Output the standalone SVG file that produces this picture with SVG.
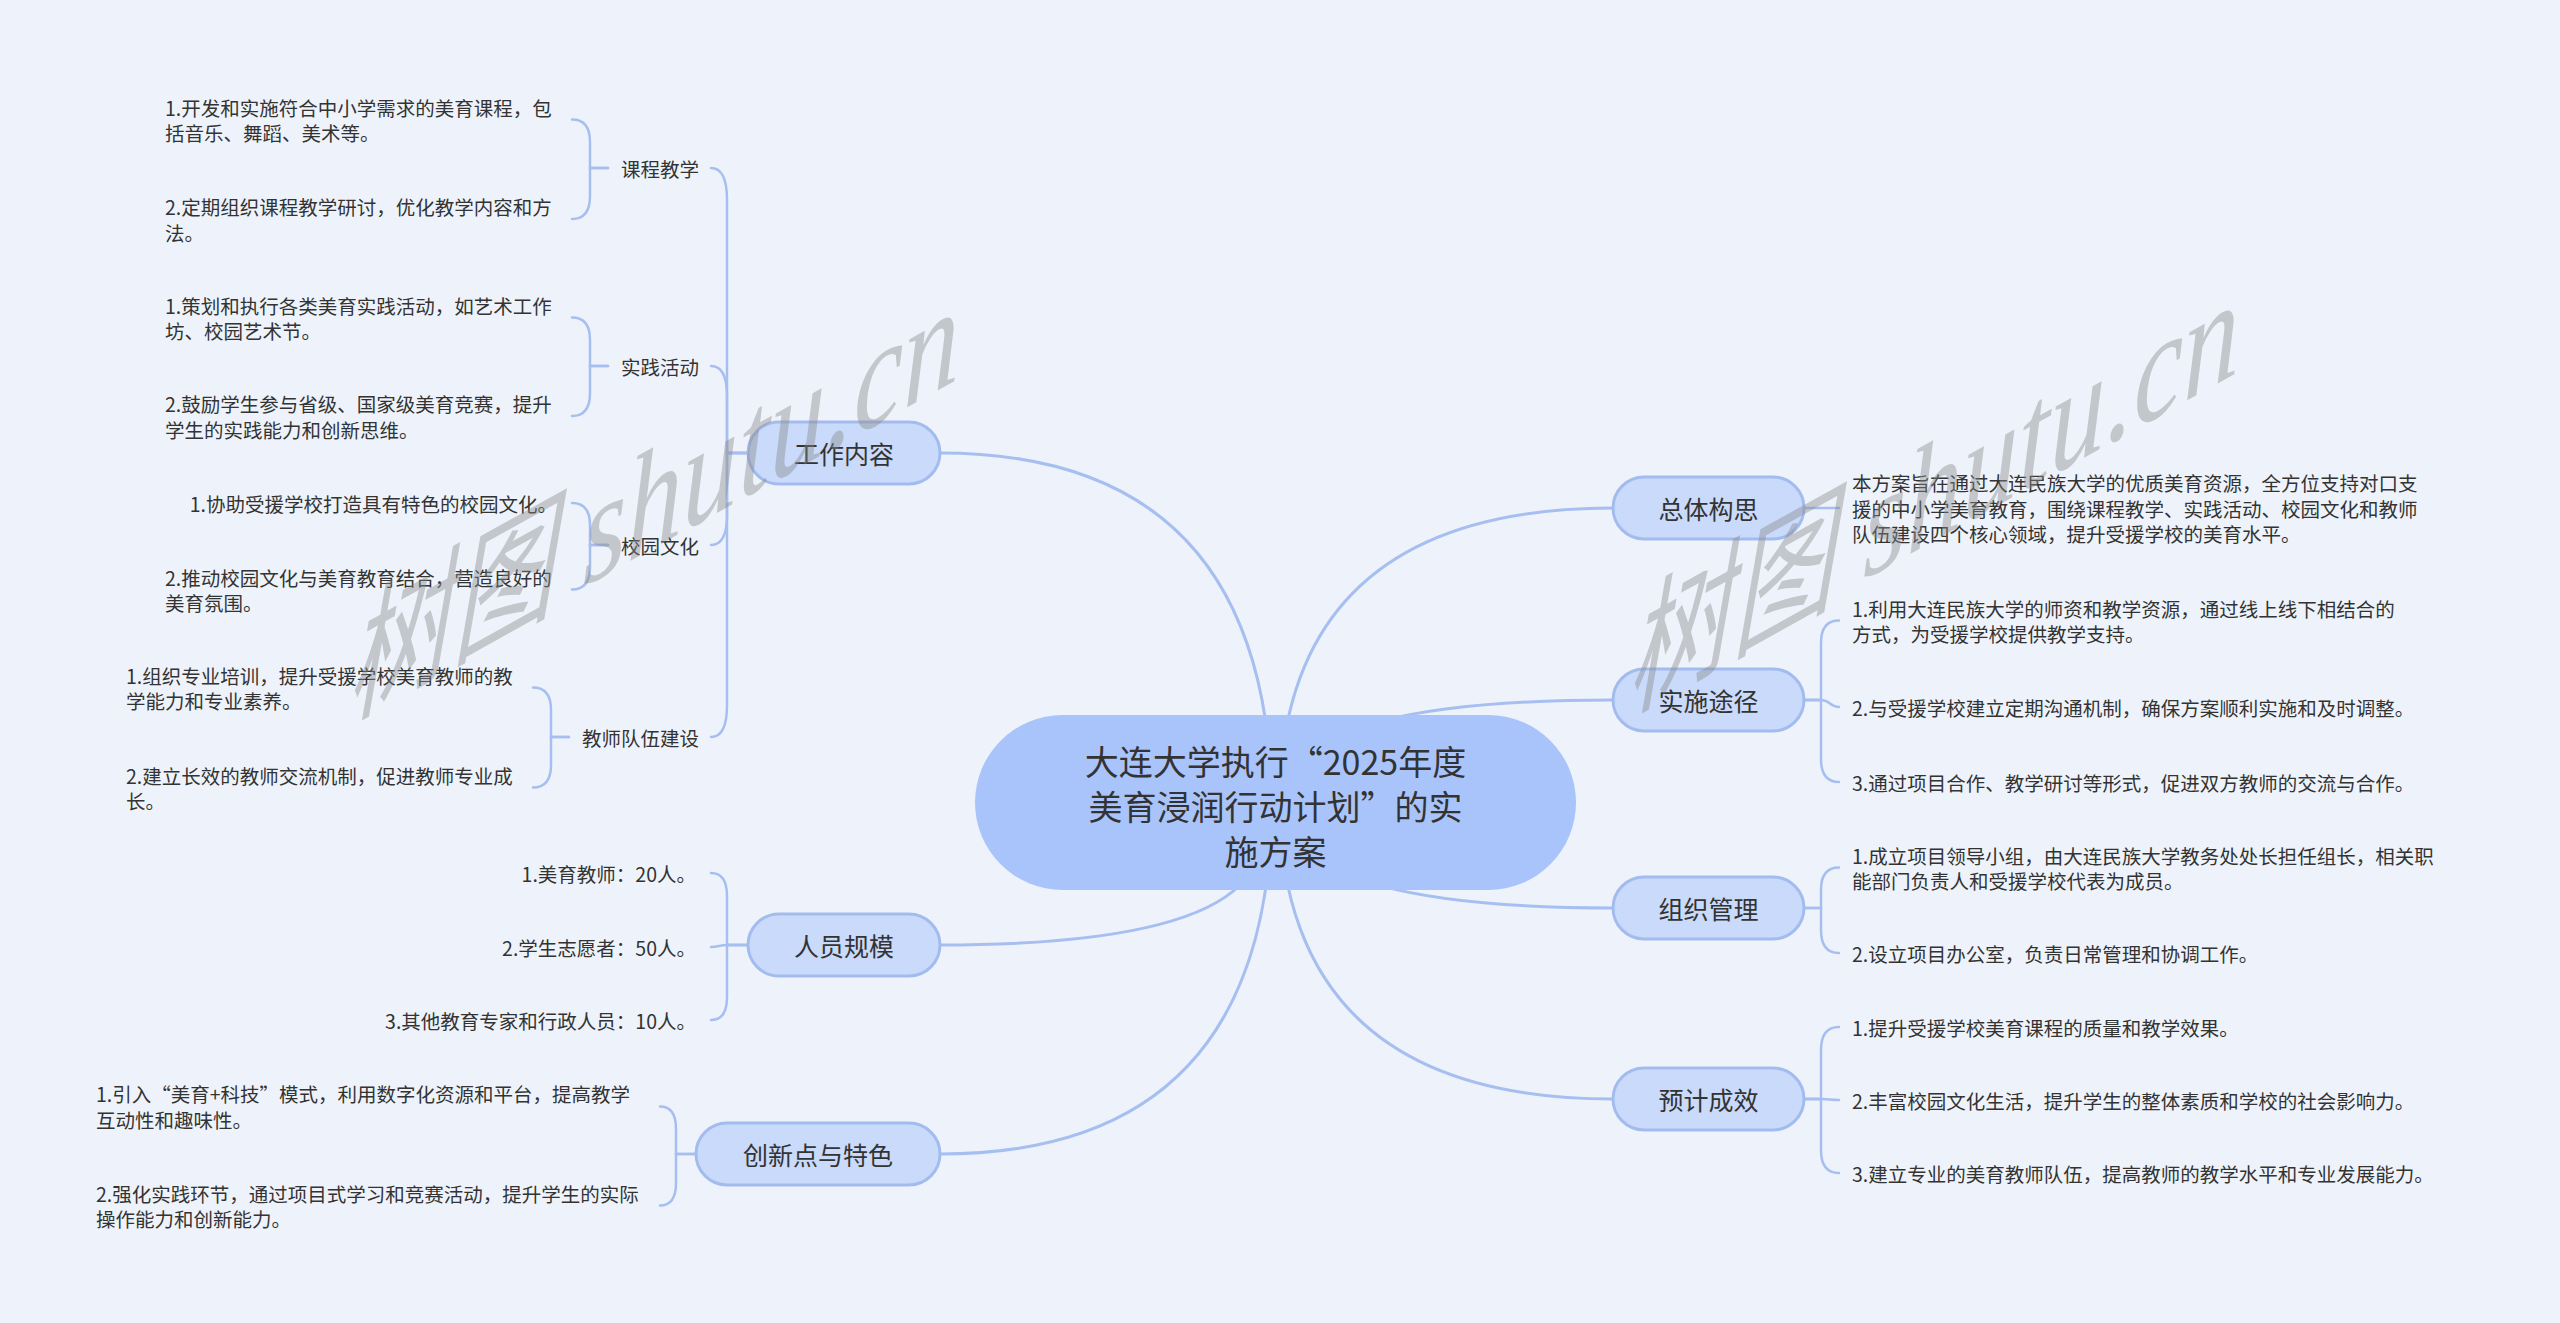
<svg xmlns="http://www.w3.org/2000/svg" width="2560" height="1323" viewBox="0 0 2560 1323">
<style>
.bg{fill:#eef3fb}
.root{fill:#a9c4fa}
.l1{fill:#c9dafb;stroke:#a3bcef;stroke-width:3}
.conn path{fill:none;stroke:#a6bff0;stroke-width:3;stroke-linecap:round}
.conn path.s{stroke-width:2.5}
text{font-family:"Noto Sans CJK SC","Noto Sans",sans-serif;fill:#333;dominant-baseline:central}
.t0{font-size:34px;text-anchor:middle}
.t1{font-size:25px;text-anchor:middle}
.t2{font-size:19.5px}
.e{text-anchor:end}
.wm{fill:#8a8a8a;opacity:0.42;dominant-baseline:alphabetic;font-style:italic}
.wm .c{font-size:104px}
.wm .l{font-family:"Liberation Serif",serif;font-size:112px}
</style>
<rect class="bg" x="0" y="0" width="2560" height="1323"/>

<g id="connectors" class="conn">
  <!-- root to level 1 -->
  <path d="M940 453 Q1265 453 1272 800"/>
  <path d="M940 945 Q1180 945 1240 885 L1262 850"/>
  <path d="M940 1154 Q1268 1154 1272 805"/>
  <path d="M1613 508 Q1285 508 1279 800"/>
  <path d="M1613 700 Q1360 700 1300 760"/>
  <path d="M1613 908 Q1360 908 1300 845"/>
  <path d="M1613 1099 Q1285 1099 1279 805"/>
  <!-- 工作内容 children -->
  <path class="s" d="M748 453 H727 V200 Q727 168 711 168"/>
  <path class="s" d="M748 453 H727 V396 Q727 366 711 366"/>
  <path class="s" d="M748 453 H727 V515 Q727 545 711 545"/>
  <path class="s" d="M748 453 H727 V705 Q727 737 711 737"/>
  <!-- 课程教学 -->
  <path class="s" d="M608 168 H590 V142 Q590 119.5 572 119.5"/>
  <path class="s" d="M608 168 H590 V196 Q590 219 572 219"/>
  <!-- 实践活动 -->
  <path class="s" d="M608 366 H590 V340 Q590 317.5 572 317.5"/>
  <path class="s" d="M608 366 H590 V393 Q590 416 572 416"/>
  <!-- 校园文化 -->
  <path class="s" d="M608 545 H590 V525 Q590 503 572 503"/>
  <path class="s" d="M608 545 H590 V567 Q590 589.5 572 589.5"/>
  <!-- 教师队伍建设 -->
  <path class="s" d="M569 737 H551 V710 Q551 687.5 533 687.5"/>
  <path class="s" d="M569 737 H551 V765 Q551 787.5 533 787.5"/>
  <!-- 人员规模 -->
  <path class="s" d="M748 945 H727 V896 Q727 873 711 873"/>
  <path class="s" d="M748 945 H727 C719 945 719 947 711 947"/>
  <path class="s" d="M748 945 H727 V997 Q727 1020 711 1020"/>
  <!-- 创新点与特色 -->
  <path class="s" d="M696 1154 H676 V1129 Q676 1106.5 660 1106.5"/>
  <path class="s" d="M696 1154 H676 V1183 Q676 1205.5 660 1205.5"/>
  <!-- 总体构思 -->
  <path class="s" d="M1804 508 H1839"/>
  <!-- 实施途径 -->
  <path class="s" d="M1804 700 H1821 V643 Q1821 620.5 1839 620.5"/>
  <path class="s" d="M1804 700 H1821 C1830 700 1830 707 1839 707"/>
  <path class="s" d="M1804 700 H1821 V759 Q1821 782 1839 782"/>
  <!-- 组织管理 -->
  <path class="s" d="M1804 908 H1821 V890 Q1821 867.5 1839 867.5"/>
  <path class="s" d="M1804 908 H1821 V930 Q1821 953 1839 953"/>
  <!-- 预计成效 -->
  <path class="s" d="M1804 1099 H1821 V1050 Q1821 1027 1839 1027"/>
  <path class="s" d="M1804 1099 H1821 C1830 1099 1830 1100 1839 1100"/>
  <path class="s" d="M1804 1099 H1821 V1150 Q1821 1173 1839 1173"/>
</g>

<g id="root">
  <rect class="root" x="975" y="715" width="601" height="175" rx="87.5"/>
  <text class="t0" x="1275.5" y="760">大连大学执行“2025年度</text>
  <text class="t0" x="1275.5" y="805">美育浸润行动计划”的实</text>
  <text class="t0" x="1275.5" y="850">施方案</text>
</g>

<g id="n-gongzuo">
  <rect class="l1" x="748" y="422" width="192" height="62" rx="31"/>
  <text class="t1" x="844" y="453">工作内容</text>
</g>
<g id="n-renyuan">
  <rect class="l1" x="748" y="914" width="192" height="62" rx="31"/>
  <text class="t1" x="844" y="945">人员规模</text>
</g>
<g id="n-chuangxin">
  <rect class="l1" x="696" y="1123" width="244" height="62" rx="31"/>
  <text class="t1" x="818" y="1154">创新点与特色</text>
</g>
<g id="n-zongti">
  <rect class="l1" x="1613" y="477" width="191" height="62" rx="31"/>
  <text class="t1" x="1708.5" y="508">总体构思</text>
</g>
<g id="n-shishi">
  <rect class="l1" x="1613" y="669" width="191" height="62" rx="31"/>
  <text class="t1" x="1708.5" y="700">实施途径</text>
</g>
<g id="n-zuzhi">
  <rect class="l1" x="1613" y="877" width="191" height="62" rx="31"/>
  <text class="t1" x="1708.5" y="908">组织管理</text>
</g>
<g id="n-yuji">
  <rect class="l1" x="1613" y="1068" width="191" height="62" rx="31"/>
  <text class="t1" x="1708.5" y="1099">预计成效</text>
</g>

<g id="n-kecheng">
  <text class="t2 e" x="699" y="168">课程教学</text>
</g>
<g id="n-kecheng-1">
  <text class="t2" x="165" y="107">1.开发和实施符合中小学需求的美育课程，包</text>
  <text class="t2" x="165" y="132.5">括音乐、舞蹈、美术等。</text>
</g>
<g id="n-kecheng-2">
  <text class="t2" x="165" y="206.5">2.定期组织课程教学研讨，优化教学内容和方</text>
  <text class="t2" x="165" y="232">法。</text>
</g>
<g id="n-shijian">
  <text class="t2 e" x="699" y="366">实践活动</text>
</g>
<g id="n-shijian-1">
  <text class="t2" x="165" y="305">1.策划和执行各类美育实践活动，如艺术工作</text>
  <text class="t2" x="165" y="330.5">坊、校园艺术节。</text>
</g>
<g id="n-shijian-2">
  <text class="t2" x="165" y="403.5">2.鼓励学生参与省级、国家级美育竞赛，提升</text>
  <text class="t2" x="165" y="429">学生的实践能力和创新思维。</text>
</g>
<g id="n-xiaoyuan">
  <text class="t2 e" x="699" y="545">校园文化</text>
</g>
<g id="n-xiaoyuan-1">
  <text class="t2 e" x="557" y="503">1.协助受援学校打造具有特色的校园文化。</text>
</g>
<g id="n-xiaoyuan-2">
  <text class="t2" x="165" y="577">2.推动校园文化与美育教育结合，营造良好的</text>
  <text class="t2" x="165" y="602.5">美育氛围。</text>
</g>
<g id="n-jiaoshi">
  <text class="t2 e" x="699" y="737">教师队伍建设</text>
</g>
<g id="n-jiaoshi-1">
  <text class="t2" x="126" y="675">1.组织专业培训，提升受援学校美育教师的教</text>
  <text class="t2" x="126" y="700.5">学能力和专业素养。</text>
</g>
<g id="n-jiaoshi-2">
  <text class="t2" x="126" y="775">2.建立长效的教师交流机制，促进教师专业成</text>
  <text class="t2" x="126" y="800.5">长。</text>
</g>

<g id="n-renyuan-1"><text class="t2 e" x="696" y="873">1.美育教师：20人。</text></g>
<g id="n-renyuan-2"><text class="t2 e" x="696" y="947">2.学生志愿者：50人。</text></g>
<g id="n-renyuan-3"><text class="t2 e" x="696" y="1020">3.其他教育专家和行政人员：10人。</text></g>

<g id="n-chuangxin-1">
  <text class="t2" x="96" y="1093.5">1.引入“美育+科技”模式，利用数字化资源和平台，提高教学</text>
  <text class="t2" x="96" y="1119">互动性和趣味性。</text>
</g>
<g id="n-chuangxin-2">
  <text class="t2" x="96" y="1193">2.强化实践环节，通过项目式学习和竞赛活动，提升学生的实际</text>
  <text class="t2" x="96" y="1218.5">操作能力和创新能力。</text>
</g>

<g id="n-zongti-1">
  <text class="t2" x="1852" y="482.5">本方案旨在通过大连民族大学的优质美育资源，全方位支持对口支</text>
  <text class="t2" x="1852" y="508">援的中小学美育教育，围绕课程教学、实践活动、校园文化和教师</text>
  <text class="t2" x="1852" y="533.5">队伍建设四个核心领域，提升受援学校的美育水平。</text>
</g>
<g id="n-shishi-1">
  <text class="t2" x="1852" y="608">1.利用大连民族大学的师资和教学资源，通过线上线下相结合的</text>
  <text class="t2" x="1852" y="633.5">方式，为受援学校提供教学支持。</text>
</g>
<g id="n-shishi-2"><text class="t2" x="1852" y="707">2.与受援学校建立定期沟通机制，确保方案顺利实施和及时调整。</text></g>
<g id="n-shishi-3"><text class="t2" x="1852" y="782">3.通过项目合作、教学研讨等形式，促进双方教师的交流与合作。</text></g>
<g id="n-zuzhi-1">
  <text class="t2" x="1852" y="855">1.成立项目领导小组，由大连民族大学教务处处长担任组长，相关职</text>
  <text class="t2" x="1852" y="880.5">能部门负责人和受援学校代表为成员。</text>
</g>
<g id="n-zuzhi-2"><text class="t2" x="1852" y="953">2.设立项目办公室，负责日常管理和协调工作。</text></g>
<g id="n-yuji-1"><text class="t2" x="1852" y="1027">1.提升受援学校美育课程的质量和教学效果。</text></g>
<g id="n-yuji-2"><text class="t2" x="1852" y="1100">2.丰富校园文化生活，提升学生的整体素质和学校的社会影响力。</text></g>
<g id="n-yuji-3"><text class="t2" x="1852" y="1173">3.建立专业的美育教师队伍，提高教师的教学水平和专业发展能力。</text></g>

<g id="watermarks">
  <text class="wm" transform="translate(347 718) skewY(-29) scale(1 1.3)"><tspan class="c">树图</tspan><tspan class="l"> shutu.cn</tspan></text>
  <text class="wm" transform="translate(1627 711) skewY(-29) scale(1 1.3)"><tspan class="c">树图</tspan><tspan class="l"> shutu.cn</tspan></text>
</g>
</svg>
